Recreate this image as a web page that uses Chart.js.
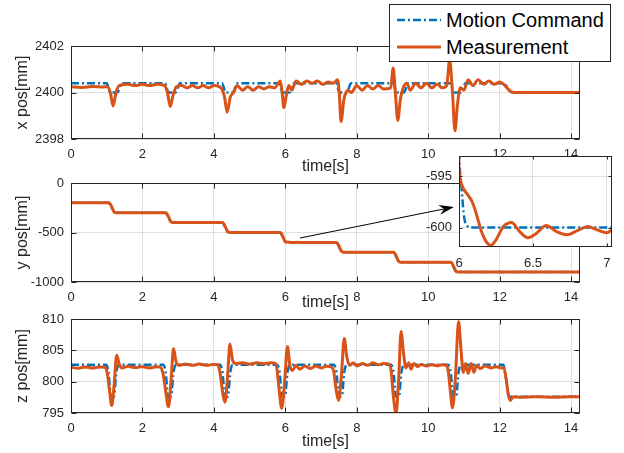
<!DOCTYPE html>
<html>
<head>
<meta charset="utf-8">
<script src="https://cdn.jsdelivr.net/npm/chart.js@4.4.0/dist/chart.umd.min.js"></script>
<style>
  html, body { margin: 0; padding: 0; background: #fff; }
  #wrap { position: relative; width: 624px; height: 453px; overflow: hidden; background: #fff;
          font-family: 'Liberation Sans', Arial, Helvetica, sans-serif; }
  #wrap canvas { position: absolute; }
  #legend { position: absolute; left: 389px; top: 4px; width: 220px; height: 56px;
            border: 1px solid #262626; background: #fff; }
  #legend .row { position: absolute; left: 0; width: 220px; height: 26px; }
  #legend svg { position: absolute; left: 7px; top: 9px; }
  #legend span { position: absolute; left: 56px; top: 0; line-height: 26px; font-size: 20px; color: #000; white-space: nowrap; }
</style>
</head>
<body>
<div id="wrap">
  <canvas id="cx" width="624" height="180" style="left:0;top:0"></canvas>
  <canvas id="cy" width="624" height="152" style="left:0;top:163px"></canvas>
  <canvas id="cz" width="624" height="154" style="left:0;top:299px"></canvas>
  <canvas id="ci" width="224" height="140" style="left:400px;top:140px"></canvas>
  <div id="legend"></div>
</div>
<script>
// series names
const seriesNames = ['Motion Command', 'Measurement'];

// x position: command
const xCmdTime = [0, 1.0, 1.1, 1.3, 1.42, 2.63, 2.73, 2.93, 3.05, 4.23, 4.33, 4.53, 4.65, 5.82, 5.92, 6.12, 6.24,
  7.42, 7.52, 7.72, 7.84, 9.02, 9.12, 9.32, 9.44, 10.62, 10.72, 10.92, 11.04, 12.1, 12.35, 14.25];
const xCmdVal = [2400.4, 2400.4, 2400.0, 2400.0, 2400.4, 2400.4, 2400.0, 2400.0, 2400.4, 2400.4, 2400.0, 2400.0, 2400.4, 2400.4, 2400.0, 2400.0, 2400.4,
  2400.4, 2400.0, 2400.0, 2400.4, 2400.4, 2400.0, 2400.0, 2400.4, 2400.4, 2400.0, 2400.0, 2400.4, 2400.4, 2400.0, 2400.0];

// x position: measurement
const xMeasTime = [
  0, 0.3, 0.6, 0.9, 1.02,
  1.1, 1.18, 1.26, 1.35, 1.6, 1.8, 2.0, 2.2, 2.4, 2.62,
  2.7, 2.78, 2.86, 2.95, 3.1, 3.25, 3.4, 3.55, 3.7, 3.85, 4.0, 4.2,
  4.3, 4.37, 4.46, 4.55, 4.65, 4.8, 4.95, 5.1, 5.25, 5.4, 5.55, 5.7, 5.86,
  5.91, 5.96, 6.03, 6.1, 6.18, 6.3, 6.45, 6.6, 6.75, 6.9, 7.05, 7.2, 7.35, 7.46,
  7.51, 7.56, 7.64, 7.75, 7.85, 8.0, 8.15, 8.3, 8.45, 8.6, 8.75, 8.95,
  9.02, 9.08, 9.15, 9.22, 9.3, 9.4, 9.5, 9.65, 9.8, 9.95, 10.1, 10.25, 10.4, 10.52,
  10.6, 10.68, 10.75, 10.82, 10.9, 11.0, 11.12, 11.25, 11.4, 11.55, 11.7, 11.85, 12.0, 12.15, 12.3, 12.45, 13.0, 13.5, 14.25
];
const xMeasVal = [
  2400.25, 2400.22, 2400.26, 2400.24, 2400.25,
  2400.0, 2399.42, 2400.0, 2400.3, 2400.35, 2400.3, 2400.35, 2400.3, 2400.35, 2400.3,
  2400.0, 2399.4, 2399.9, 2400.25, 2400.3, 2400.2, 2400.3, 2400.2, 2400.3, 2400.2, 2400.3, 2400.2,
  2399.8, 2399.15, 2399.8, 2400.0, 2400.3, 2400.1, 2400.25, 2400.1, 2400.25, 2400.15, 2400.25, 2400.2, 2400.5,
  2400.0, 2399.35, 2399.9, 2400.3, 2400.1, 2400.5, 2400.35, 2400.5, 2400.4, 2400.5, 2400.35, 2400.45, 2400.4, 2400.55,
  2400.0, 2398.75, 2399.7, 2400.1, 2400.0, 2400.3, 2400.1, 2400.3, 2400.15, 2400.3, 2400.15, 2400.2,
  2401.05, 2400.0, 2398.8, 2399.7, 2400.2, 2400.4, 2400.1, 2400.4, 2400.2, 2400.4, 2400.2, 2400.35, 2400.2, 2400.3,
  2401.4, 2400.0, 2398.35, 2399.5, 2400.2, 2400.1, 2400.55, 2400.3, 2400.55, 2400.35, 2400.5, 2400.35, 2400.45, 2400.3, 2400.05, 2400.0, 2400.0, 2400.0, 2400.0
];

// y position: command
const yCmdTime = [0, 1.03, 1.08, 1.14, 1.2, 1.25,
  2.62, 2.67, 2.73, 2.79, 2.84,
  4.21, 4.26, 4.32, 4.38, 4.43,
  5.83, 5.88, 5.94, 6.0, 6.018, 6.035, 6.06, 6.08,
  7.4, 7.45, 7.51, 7.57, 7.62,
  9.0, 9.05, 9.11, 9.17, 9.22,
  10.6, 10.65, 10.71, 10.77, 10.82, 14.25];
const yCmdVal = [-200, -200, -208, -250, -292, -300,
  -300, -308, -350, -392, -400,
  -400, -408, -450, -492, -500,
  -500, -510, -555, -592.5, -596.3, -599.0, -599.9, -600,
  -600, -608, -650, -692, -700,
  -700, -708, -750, -792, -800,
  -800, -808, -850, -892, -900, -900];

// y position: measurement
const yMeasTime = [0, 1.04, 1.09, 1.15, 1.21, 1.27,
  2.63, 2.68, 2.74, 2.8, 2.86,
  4.22, 4.27, 4.33, 4.39, 4.45,
  5.84, 5.89, 5.95, 6.0, 6.012, 6.03, 6.06, 6.09, 6.12, 6.15, 6.185, 6.215, 6.25, 6.3, 6.355, 6.41, 6.466, 6.52,
  6.59, 6.66, 6.73, 6.8, 6.87, 6.93, 7.0, 7.04, 7.15, 7.3,
  7.41, 7.46, 7.52, 7.58, 7.64,
  9.01, 9.06, 9.12, 9.18, 9.24,
  10.61, 10.66, 10.72, 10.78, 10.84, 14.25];
const yMeasVal = [-200, -200, -208, -250, -292, -300,
  -300, -308, -350, -392, -400,
  -400, -408, -450, -492, -500,
  -500, -510, -556, -594.2, -595.5, -596.2, -596.8, -597.5, -598.8, -600.3, -601.4, -601.75, -601.2, -599.9, -599.5, -600.4, -601.0, -600.6,
  -599.8, -600.4, -600.7, -600.3, -599.9, -600.2, -600.5, -600.2, -600, -600,
  -600, -608, -650, -692, -700,
  -700, -708, -750, -792, -800,
  -800, -808, -850, -892, -900, -900];

// z position: command
const zCmdTime = [0, 0.98, 1.05, 1.12, 1.2, 1.27, 1.34,
  2.58, 2.65, 2.72, 2.8, 2.87, 2.94,
  4.17, 4.24, 4.31, 4.39, 4.46, 4.53,
  5.77, 5.84, 5.91, 5.99, 6.06, 6.13,
  7.36, 7.43, 7.5, 7.58, 7.65, 7.72,
  8.96, 9.03, 9.1, 9.18, 9.25, 9.32,
  10.56, 10.63, 10.7, 10.78, 10.85, 10.92,
  12.1, 12.18, 12.27, 14.25];
const zCmdVal = [802.7, 802.7, 801.5, 797.6, 797.6, 801.5, 802.7,
  802.7, 801.5, 797.6, 797.6, 801.5, 802.7,
  802.7, 801.5, 797.6, 797.6, 801.5, 802.7,
  802.7, 801.5, 797.6, 797.6, 801.5, 802.7,
  802.7, 801.5, 797.6, 797.6, 801.5, 802.7,
  802.7, 801.5, 797.6, 797.6, 801.5, 802.7,
  802.7, 801.5, 797.6, 797.6, 801.5, 802.7,
  802.7, 800.5, 797.6, 797.6];

// z position: measurement
const zMeasTime = [
  0, 0.2, 0.4, 0.6, 0.8, 0.95,
  1.02, 1.08, 1.14, 1.2, 1.28, 1.35, 1.42, 1.6, 1.8, 2.0, 2.2, 2.4, 2.5,
  2.58, 2.65, 2.73, 2.8, 2.87, 2.94, 3.02, 3.2, 3.4, 3.6, 3.8, 4.0, 4.1,
  4.17, 4.24, 4.31, 4.38, 4.45, 4.52, 4.6, 4.8, 5.0, 5.2, 5.4, 5.6, 5.72,
  5.77, 5.83, 5.9, 5.98, 6.06, 6.13, 6.2, 6.3, 6.4, 6.55, 6.7, 6.85, 7.0, 7.15, 7.3,
  7.36, 7.42, 7.49, 7.57, 7.65, 7.72, 7.8, 7.9, 8.0, 8.15, 8.3, 8.45, 8.6, 8.75, 8.9,
  8.96, 9.02, 9.1, 9.17, 9.24, 9.31, 9.38, 9.45, 9.52, 9.6, 9.7, 9.8, 9.95, 10.1, 10.25, 10.4, 10.5,
  10.56, 10.62, 10.68, 10.76, 10.85, 10.92, 10.98, 11.05, 11.12, 11.2, 11.28, 11.35, 11.45, 11.6, 11.75, 11.9, 12.05, 12.12,
  12.18, 12.24, 12.3, 12.38, 12.6, 13.0, 13.5, 14.0, 14.25
];
const zMeasVal = [
  802.3, 802.15, 802.35, 802.2, 802.35, 802.3,
  801.2, 798.5, 796.2, 799.0, 804.2, 802.8, 802.2, 802.45, 802.25, 802.4, 802.2, 802.4, 802.3,
  801.2, 798.5, 796.0, 800.0, 805.3, 803.2, 802.6, 802.8, 802.6, 802.8, 802.6, 802.75, 802.7,
  801.5, 798.5, 796.7, 800.5, 806.0, 803.5, 802.9, 803.0, 802.8, 803.0, 802.85, 803.0, 802.9,
  801.8, 798.5, 795.75, 800.0, 805.6, 802.5, 801.8, 802.6, 802.0, 802.5, 802.1, 802.5, 802.2, 802.45, 802.3,
  801.5, 798.8, 797.0, 801.0, 806.9, 804.0, 802.6, 803.0, 802.5, 802.9, 802.6, 803.0, 802.7, 802.9, 802.8,
  801.8, 798.0, 794.9, 800.0, 808.0, 804.5, 802.2, 803.0, 802.0, 802.9, 802.4, 802.75, 802.5, 802.7, 802.55, 802.7, 802.6,
  801.8, 798.5, 795.8, 800.5, 809.6, 805.0, 801.5, 802.9, 801.3, 802.9, 801.5, 802.6, 802.1, 802.5, 802.2, 802.4, 802.2, 802.2,
  800.5, 798.0, 797.0, 797.6, 797.5, 797.6, 797.5, 797.6, 797.6
];

// zoom arrow (data units of the y plot)
const arrowFrom = [6.41, -556];
const arrowTo = [10.72, -242];

const BLUE = '#0072BD';
const ORANGE = '#D95319';
const GRID = '#dfdfdf';
const AXIS = '#262626';
const FONT = "'Liberation Sans', Arial, Helvetica, sans-serif";

Chart.defaults.font.family = FONT;
Chart.defaults.color = AXIS;

function pts(ts, vs) {
  return ts.map((t, i) => ({ x: t, y: vs[i] }));
}

function lineSet(label, ts, vs, isCmd) {
  return {
    label: label,
    data: pts(ts, vs),
    borderColor: isCmd ? BLUE : ORANGE,
    borderWidth: isCmd ? 2.5 : 3,
    borderDash: isCmd ? [8, 3, 2, 3] : [],
    borderCapStyle: 'butt',
    pointRadius: 0,
    cubicInterpolationMode: 'monotone',
    fill: false,
    clip: 0,
    order: isCmd ? 2 : 1
  };
}

// box round the plot area plus inward ticks on all four sides
const framePlugin = {
  id: 'frame',
  beforeDraw(chart, args, o) {
    if (!o.fill) return;
    const a = chart.chartArea;
    const ctx = chart.ctx;
    ctx.save();
    ctx.fillStyle = '#fff';
    ctx.fillRect(a.left, a.top, a.right - a.left, a.bottom - a.top);
    ctx.restore();
  },
  afterDatasetsDraw(chart, args, o) {
    const { ctx, chartArea: a, scales } = chart;
    const len = o.tickLen || 5;
    const L = Math.round(a.left) + 0.5, R = Math.round(a.right) - 0.5;
    const T = Math.round(a.top) + 0.5, B = Math.round(a.bottom) - 0.5;
    ctx.save();
    ctx.strokeStyle = AXIS;
    ctx.lineWidth = 1;
    ctx.beginPath();
    scales.x.ticks.forEach(t => {
      const px = Math.round(scales.x.getPixelForValue(t.value)) + 0.5;
      ctx.moveTo(px, B); ctx.lineTo(px, B - len);
      ctx.moveTo(px, T); ctx.lineTo(px, T + len);
    });
    scales.y.ticks.forEach(t => {
      const py = Math.round(scales.y.getPixelForValue(t.value)) + 0.5;
      ctx.moveTo(L, py); ctx.lineTo(L + len, py);
      ctx.moveTo(R, py); ctx.lineTo(R - len, py);
    });
    ctx.stroke();
    ctx.strokeRect(L, T, R - L, B - T);
    ctx.restore();
  }
};

const arrowPlugin = {
  id: 'arrow',
  afterDraw(chart, args, o) {
    if (!o.from) return;
    const { ctx, scales } = chart;
    const x0 = scales.x.getPixelForValue(o.from[0]), y0 = scales.y.getPixelForValue(o.from[1]);
    const x1 = scales.x.getPixelForValue(o.to[0]), y1 = scales.y.getPixelForValue(o.to[1]);
    const d = Math.hypot(x1 - x0, y1 - y0);
    const ux = (x1 - x0) / d, uy = (y1 - y0) / d;
    const nx = -uy, ny = ux;
    const hl = 15, hw = 5, notch = 5;
    ctx.save();
    ctx.strokeStyle = '#000';
    ctx.fillStyle = '#000';
    ctx.lineWidth = 1;
    ctx.beginPath();
    ctx.moveTo(x0, y0);
    ctx.lineTo(x1 - ux * (hl - notch), y1 - uy * (hl - notch));
    ctx.stroke();
    ctx.beginPath();
    ctx.moveTo(x1, y1);
    ctx.lineTo(x1 - ux * hl + nx * hw, y1 - uy * hl + ny * hw);
    ctx.lineTo(x1 - ux * (hl - notch), y1 - uy * (hl - notch));
    ctx.lineTo(x1 - ux * hl - nx * hw, y1 - uy * hl - ny * hw);
    ctx.closePath();
    ctx.fill();
    ctx.restore();
  }
};

function xAxis(min, max, step, labelPad, axisH, titlePad) {
  return {
    type: 'linear', min: min, max: max,
    afterFit: s => { s.height = axisH; },
    ticks: { stepSize: step, includeBounds: false, padding: labelPad, maxRotation: 0, autoSkip: false,
             font: { size: 13 }, color: AXIS, callback: v => String(v) },
    grid: { color: GRID, drawTicks: false, lineWidth: 1 },
    border: { display: false },
    title: { display: titlePad !== null, text: 'time[s]', font: { size: 16 }, color: AXIS,
             padding: { top: 0, bottom: titlePad || 0 } }
  };
}

function yAxis(min, max, step, axisW, title) {
  return {
    type: 'linear', min: min, max: max,
    afterFit: s => { s.width = axisW; },
    ticks: { stepSize: step, includeBounds: false, padding: 7, font: { size: 13 }, color: AXIS,
             callback: v => String(v) },
    grid: { color: GRID, drawTicks: false, lineWidth: 1 },
    border: { display: false },
    title: { display: !!title, text: title || '', font: { size: 16 }, color: AXIS,
             padding: { top: 13.4, bottom: 0 } }
  };
}

function makeChart(id, cmdT, cmdV, measT, measV, xs, ys, pad, extra) {
  return new Chart(document.getElementById(id), {
    type: 'line',
    data: { datasets: [lineSet(seriesNames[0], cmdT, cmdV, true), lineSet(seriesNames[1], measT, measV, false)] },
    options: {
      responsive: false,
      animation: false,
      events: [],
      layout: { padding: pad },
      scales: { x: xs, y: ys },
      plugins: Object.assign({ legend: { display: false }, tooltip: { enabled: false } }, extra)
    },
    plugins: [framePlugin, arrowPlugin]
  });
}

const chartX = makeChart('cx', xCmdTime, xCmdVal, xMeasTime, xMeasVal,
  xAxis(0, 14.25, 2, 8, 41, 3.4), yAxis(2398, 2402, 2, 71, 'x pos[mm]'),
  { left: 0, right: 44, top: 46, bottom: 0 }, { frame: { tickLen: 5 } });

const chartY = makeChart('cy', yCmdTime, yCmdVal, yMeasTime, yMeasVal,
  xAxis(0, 14.25, 2, 8, 33, 2.4), yAxis(-1000, 0, 500, 71, 'y pos[mm]'),
  { left: 0, right: 44, top: 20, bottom: 0 },
  { frame: { tickLen: 5 }, arrow: { from: arrowFrom, to: arrowTo } });

const chartZ = makeChart('cz', zCmdTime, zCmdVal, zMeasTime, zMeasVal,
  xAxis(0, 14.25, 2, 8, 40, 1.4), yAxis(795, 810, 5, 71, 'z pos[mm]'),
  { left: 0, right: 44, top: 20, bottom: 0 }, { frame: { tickLen: 5 } });

const chartInset = makeChart('ci', yCmdTime, yCmdVal, yMeasTime, yMeasVal,
  xAxis(6, 7.034, 0.5, 9, 33, null), yAxis(-601.9, -593, 5, 59, null),
  { left: 0, right: 12, top: 16, bottom: 0 }, { frame: { tickLen: 3, fill: true } });

// legend built from the datasets of the first chart
const legend = document.getElementById('legend');
chartX.data.datasets.forEach((ds, i) => {
  const row = document.createElement('div');
  row.className = 'row';
  row.style.top = (i === 0 ? 2 : 29) + 'px';
  const dash = ds.borderDash.length ? ds.borderDash.join(' ') : 'none';
  row.innerHTML = '<svg width="44" height="8"><line x1="0" y1="4" x2="44" y2="4" stroke="' + ds.borderColor +
    '" stroke-width="' + ds.borderWidth + '" stroke-dasharray="' + dash + '"/></svg><span>' + ds.label + '</span>';
  legend.appendChild(row);
});
</script>
</body>
</html>
